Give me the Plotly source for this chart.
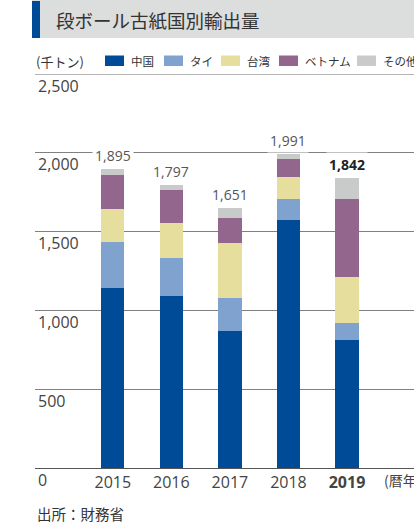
import plotly.graph_objects as go

# Exports of old corrugated cardboard by destination (thousand tonnes)
years = ["2015", "2016", "2017", "2018", "2019"]
china = [1144, 1093, 871, 1576, 814]
thailand = [292, 242, 210, 133, 109]
taiwan = [209, 221, 349, 140, 289]
vietnam = [216, 210, 158, 114, 497]
others = [34, 31, 63, 28, 133]
totals = [1895, 1797, 1651, 1991, 1842]

series_names = ["中国", "タイ", "台湾", "ベトナム", "その他"]
series_values = [china, thailand, taiwan, vietnam, others]
series_colors = ["#004b97", "#7fa2cf", "#e6de9c", "#93678d", "#c9caca"]

y_ticks = [0, 500, 1000, 1500, 2000, 2500]
y_tick_text = ["0", "500", "1,000", "1,500", "2,000", "2,500"]

JP = "Noto Sans CJK JP, sans-serif"
NUM = "Open Sans, Noto Sans CJK JP, sans-serif"

W, H = 414, 531
ML, MR, MT, MB = 35, 0, 74, 63
PW, PH = W - ML - MR, H - MT - MB


def fx(px):
    """page pixel x -> paper x"""
    return (px - ML) / PW


def fy(py):
    """page pixel y -> paper y"""
    return (H - MB - py) / PH


xpos = list(range(len(years)))

fig = go.Figure()
for name, vals, col in zip(series_names, series_values, series_colors):
    fig.add_trace(go.Bar(
        x=xpos, y=vals, name=name, width=0.396,
        marker=dict(color=col, line=dict(width=0)),
        showlegend=False,
    ))

# top rule at 2,500
fig.add_shape(type="line", xref="paper", yref="y", x0=0, x1=1, y0=2500, y1=2500,
              line=dict(color="#6f6f6f", width=1.2))

# totals above each stack
for i, t in enumerate(totals):
    last = i == len(totals) - 1
    txt = f"{t:,}"
    fig.add_annotation(
        x=xpos[i], y=t, xref="x", yref="y",
        text=f"<b>{txt}</b>" if last else txt,
        showarrow=False, yanchor="bottom", yshift=1,
        font=dict(family=NUM, size=14, color="#222" if last else "#555"),
        bgcolor="white", borderpad=2,
    )

# header band with accent bar and title
fig.add_shape(type="rect", xref="paper", yref="paper",
              x0=fx(32), x1=fx(414), y0=fy(38), y1=fy(0),
              fillcolor="#dcdddd", line_width=0, layer="below")
fig.add_shape(type="rect", xref="paper", yref="paper",
              x0=fx(32), x1=fx(40), y0=fy(38), y1=fy(1),
              fillcolor="#004b97", line_width=0)
fig.add_annotation(xref="paper", yref="paper", x=fx(54), y=fy(20),
                   text="段ボール古紙国別輸出量", showarrow=False,
                   xanchor="left", yanchor="middle",
                   font=dict(family=JP, size=18.5, color="#333"))

# unit label and legend row
fig.add_annotation(xref="paper", yref="paper", x=fx(34), y=fy(61),
                   text="(千トン)", showarrow=False,
                   xanchor="left", yanchor="middle",
                   font=dict(family=JP, size=13, color="#333"))
legend_x = [105, 164, 221, 279, 357]
for lx, name, col in zip(legend_x, series_names, series_colors):
    fig.add_shape(type="rect", xref="paper", yref="paper",
                  x0=fx(lx), x1=fx(lx + 19), y0=fy(66), y1=fy(55.5),
                  fillcolor=col, line_width=0)
    fig.add_annotation(xref="paper", yref="paper", x=fx(lx + 24),
                       y=fy(61), text=name, showarrow=False,
                       xanchor="left", yanchor="middle",
                       font=dict(family=JP, size=11.5, color="#333"))

# x-axis unit, running off the right edge
fig.add_annotation(xref="paper", yref="paper", x=fx(382), y=fy(480),
                   text="(暦年)", showarrow=False,
                   xanchor="left", yanchor="middle",
                   font=dict(family=JP, size=14, color="#444"))

# source note
fig.add_annotation(xref="paper", yref="paper", x=fx(35), y=fy(513),
                   text="出所：財務省", showarrow=False,
                   xanchor="left", yanchor="middle",
                   font=dict(family=JP, size=14.5, color="#333"))

ticktext_x = years[:-1] + ["<b>2019</b>"]

fig.update_layout(
    width=W, height=H,
    margin=dict(l=ML, r=MR, t=MT, b=MB, pad=0),
    barmode="stack",
    plot_bgcolor="white", paper_bgcolor="white",
    font=dict(family=NUM, color="#444"),
    xaxis=dict(
        range=[-1.329, 5.144], tickvals=xpos, ticktext=ticktext_x,
        showgrid=False, zeroline=False, showline=False, ticks="",
        ticklabeloverflow="allow", ticklabelstandoff=3,
        tickfont=dict(family=NUM, size=16, color="#444"),
        fixedrange=True,
    ),
    yaxis=dict(
        range=[0, 2500], tickvals=y_ticks, ticktext=y_tick_text,
        showgrid=True, gridcolor="#808080", gridwidth=1,
        zeroline=True, zerolinecolor="#555", zerolinewidth=1.2,
        showline=False, ticks="",
        ticklabelposition="inside", ticklabelshift=12,
        ticklabelstandoff=0, ticklabeloverflow="allow",
        tickfont=dict(family=NUM, size=16, color="#444"),
        fixedrange=True,
    ),
)

fig.write_html("out.html")
